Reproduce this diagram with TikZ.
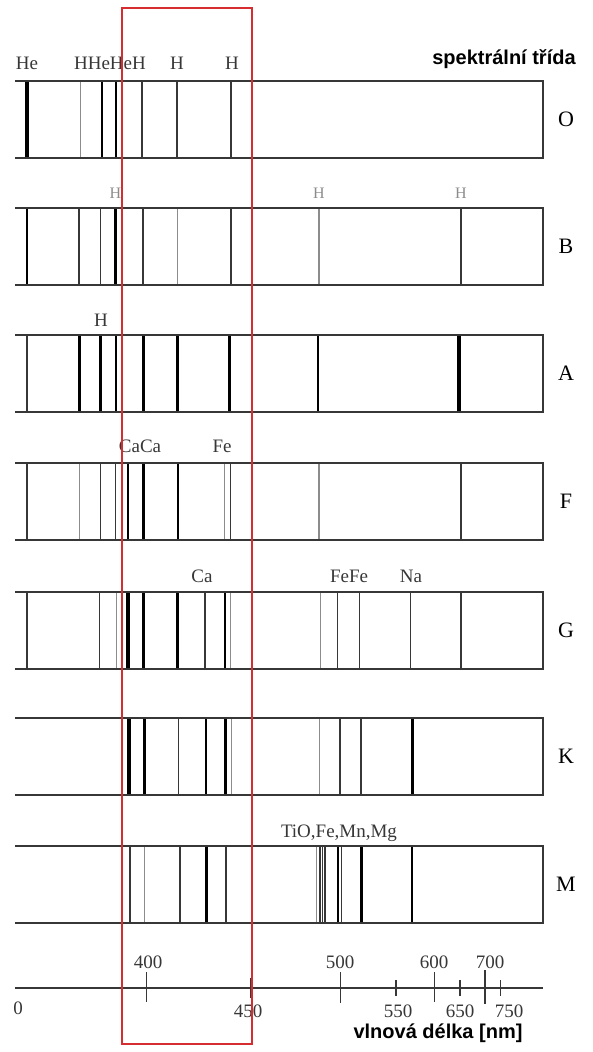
\documentclass[tikz,border=0pt]{standalone}
\usepackage{fontspec}
\setmainfont{Liberation Serif}
\newfontfamily\captfont{Liberation Sans}
\usepackage{tikz}
\definecolor{framered}{RGB}{214,46,48}
\definecolor{bandgray}{RGB}{55,55,55}
\definecolor{weakline}{RGB}{140,140,140}
% one band of absorption lines: #1 = top edge, #2 = x/width/colour list
\newcommand{\speclines}[2]{%
  \foreach \x/\w/\c in {#2}
    \draw[line width=\w pt,\c] (\x,#1) -- (\x,#1+77);}

\begin{document}
\begin{tikzpicture}[x=1pt,y=-1pt,
  band/.style={draw=bandgray,line width=1.6pt},
  elem/.style={font=\fontsize{19}{19}\selectfont,inner sep=0pt,anchor=base,text=bandgray},
  elemweak/.style={elem,font=\fontsize{16}{16}\selectfont,text=weakline},
  cls/.style={font=\fontsize{22}{22}\selectfont,inner sep=0pt},
  num/.style={font=\fontsize{19}{19}\selectfont,inner sep=0pt,anchor=base,text=bandgray},
  capt/.style={font=\captfont\bfseries\fontsize{20}{20}\selectfont,inner sep=0pt,anchor=base}]
\useasboundingbox (0,0) rectangle (592,1052);

% spectral lines
\speclines{81}{27/4/black,80/1/weakline,102/2/black,116/1.5/black,142/1.5/bandgray,177/1.5/bandgray,231/1.5/bandgray}
\speclines{208}{27/2.5/black,79/1.5/bandgray,100.4/1.5/bandgray,115.5/2.5/black,143/1.5/bandgray,177.6/1.5/weakline,231/1.2/bandgray,319/1.2/weakline,461/1.2/bandgray}
\speclines{335}{27/1.2/bandgray,79.7/2.5/black,100.4/2.5/black,116.2/2.5/black,143.7/2.5/black,177.6/2.5/black,229.6/2.5/black,318/2.5/black,459.3/4/black}
\speclines{463}{27/1.5/bandgray,79.7/1/weakline,100.4/1.5/bandgray,115.5/1.5/bandgray,127.9/2.5/black,143.7/2.5/black,177.6/2/black,224.7/1/weakline,230.3/1.5/bandgray,319/1.2/weakline,461/1.5/bandgray}
\speclines{592}{27/1.5/bandgray,99.6/1.5/bandgray,116.2/1/weakline,127.9/4/black,143.7/2.5/black,177.6/2.5/black,205/1.5/bandgray,224.7/2/black,230.3/1/weakline,320/1/weakline,337.7/1.5/bandgray,359.5/1.5/bandgray,410.4/1.5/bandgray,461/1.5/bandgray}
\speclines{718}{128.6/4/black,144.5/2.5/black,178.7/1.5/bandgray,205.8/2.5/black,225.4/2.5/black,231/1/weakline,319.6/1/weakline,339.5/2/bandgray,361/1.5/bandgray,412/3/black}
\speclines{846}{129.8/1.5/bandgray,144.8/1.2/weakline,180/1.2/bandgray,206.6/2.5/black,225.8/1.5/bandgray,316/0.8/weakline,320/1.5/bandgray,322.6/1.5/bandgray,325.2/1.5/bandgray,338.4/2/black,341.4/1.2/bandgray,361.4/2.5/black,412/2/black}

% bands and spectral classes
\foreach \cl/\t in {O/81,B/208,A/335,F/463,G/592,K/718,M/846}{
  \draw[band] (15,\t) -- (543,\t) -- (543,\t+77) -- (15,\t+77);
  \node[cls] (cls\cl) at (566,\t+38) {\cl};
}
\node[capt] (classtitle) at (504,64) {spektrální třída};

% element labels
\node[elem] (oHe) at (27,69) {He};
\node[elem] (oHHe) at (110,69) {HHeHeH};
\node[elem] (oHa) at (177,69) {H};
\node[elem] (oHb) at (232,69) {H};
\node[elemweak] (bHa) at (115.5,198) {H};
\node[elemweak] (bHb) at (319,198) {H};
\node[elemweak] (bHc) at (461,198) {H};
\node[elem] (aH) at (101,326) {H};
\node[elem] (fCa) at (140,452) {CaCa};
\node[elem] (fFe) at (222,452) {Fe};
\node[elem] (gCa) at (202,582) {Ca};
\node[elem] (gFe) at (349,582) {FeFe};
\node[elem] (gNa) at (411,582) {Na};
\node[elem] (mTiO) at (339,837) {TiO,Fe,Mn,Mg};

% wavelength axis
\draw[band] (15,988) -- (543,988);
\foreach \x/\a/\b/\w in {146.7/972/1002/1.5,251/978/998/2,340.7/972/1003/1.5,396/980/996/1.2,434.4/972/1002/1.2,460/980/996/1.2,485/970/1004/2.2,500.7/980/996/1.2}
  \draw[bandgray,line width=\w pt] (\x,\a) -- (\x,\b);
\node[num] (n0) at (18,1014) {0};
\node[num] (n400) at (148,968) {400};
\node[num] (n450) at (248,1017) {450};
\node[num] (n500) at (340,968) {500};
\node[num] (n550) at (398,1017) {550};
\node[num] (n600) at (434,968) {600};
\node[num] (n650) at (460,1017) {650};
\node[num] (n700) at (490,968) {700};
\node[num] (n750) at (509,1017) {750};
\node[capt] (axistitle) at (438,1038) {vlnová délka [nm]};

% highlighted region
\draw[framered,line width=2pt] (122,8) rectangle (252,1044);
\end{tikzpicture}
\end{document}
